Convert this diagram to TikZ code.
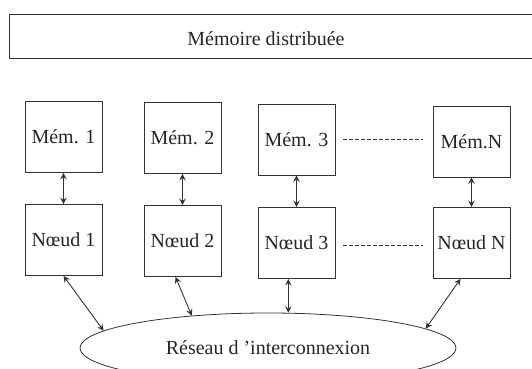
\documentclass[tikz,border=0pt]{standalone}
\usepackage{fontspec}
\setmainfont{Liberation Serif}
\usetikzlibrary{shapes.geometric}
\tikzset{
  boite/.style={draw, minimum width=38.5pt, minimum height=35.5pt, inner sep=1pt},
  lien/.style={<->, line width=0.45pt},
  pointille/.style={dash pattern=on 2pt off 1pt, line width=0.4pt}
}
\begin{document}
\begin{tikzpicture}[x=0.5pt, y=-0.5pt, >=stealth, color=black!80, text=black!85]
			\useasboundingbox (0,0) rectangle (532,369);
			\node (boite) [draw, anchor=west, minimum width=270pt, minimum height=22pt] at (9,36) {};
			\node (titre) at (266,39) {Mémoire distribuée};
			\node (m1) [boite] at (63.5,137) {Mém. 1};
			\node (m2) [boite] at (182.5,138) {Mém. 2};
			\node (m3) [boite] at (296.5,139.5) {Mém. 3};
			\node (mN) [boite] at (471.5,141.5) {Mém.N};
			\node (n1) [boite] at (63.5,240) {Nœud 1};
			\node (n2) [boite] at (182.5,241) {Nœud 2};
			\node (n3) [boite] at (296.5,243) {Nœud 3};
			\node (nN) [boite] at (471.5,243) {Nœud N};
			\node (reseau) [draw, ellipse, inner sep=0pt, minimum width=188pt, minimum height=35pt] at (268,348) {Réseau d 'interconnexion};
			\foreach \i in {1,2,3,N}
				\draw[lien] (m\i.south) -- (n\i.north);
			\draw[pointille] ([xshift=4pt]m3.east) -- ([xshift=-5pt]m3.east -| mN.west);
			\draw[pointille] ([xshift=4pt,yshift=-1pt]n3.east) -- ([xshift=-5pt,yshift=-1pt]nN.west);
			\draw[lien] (n1.south) -- (reseau.174);
			\draw[lien] ([xshift=-3.5pt]n2.south) -- (reseau.157);
			\draw[lien] (reseau.60 |- n3.south) -- (reseau.60);
			\draw[lien] ([xshift=-5.5pt]nN.south) -- (reseau.7);
		\end{tikzpicture}
\end{document}
